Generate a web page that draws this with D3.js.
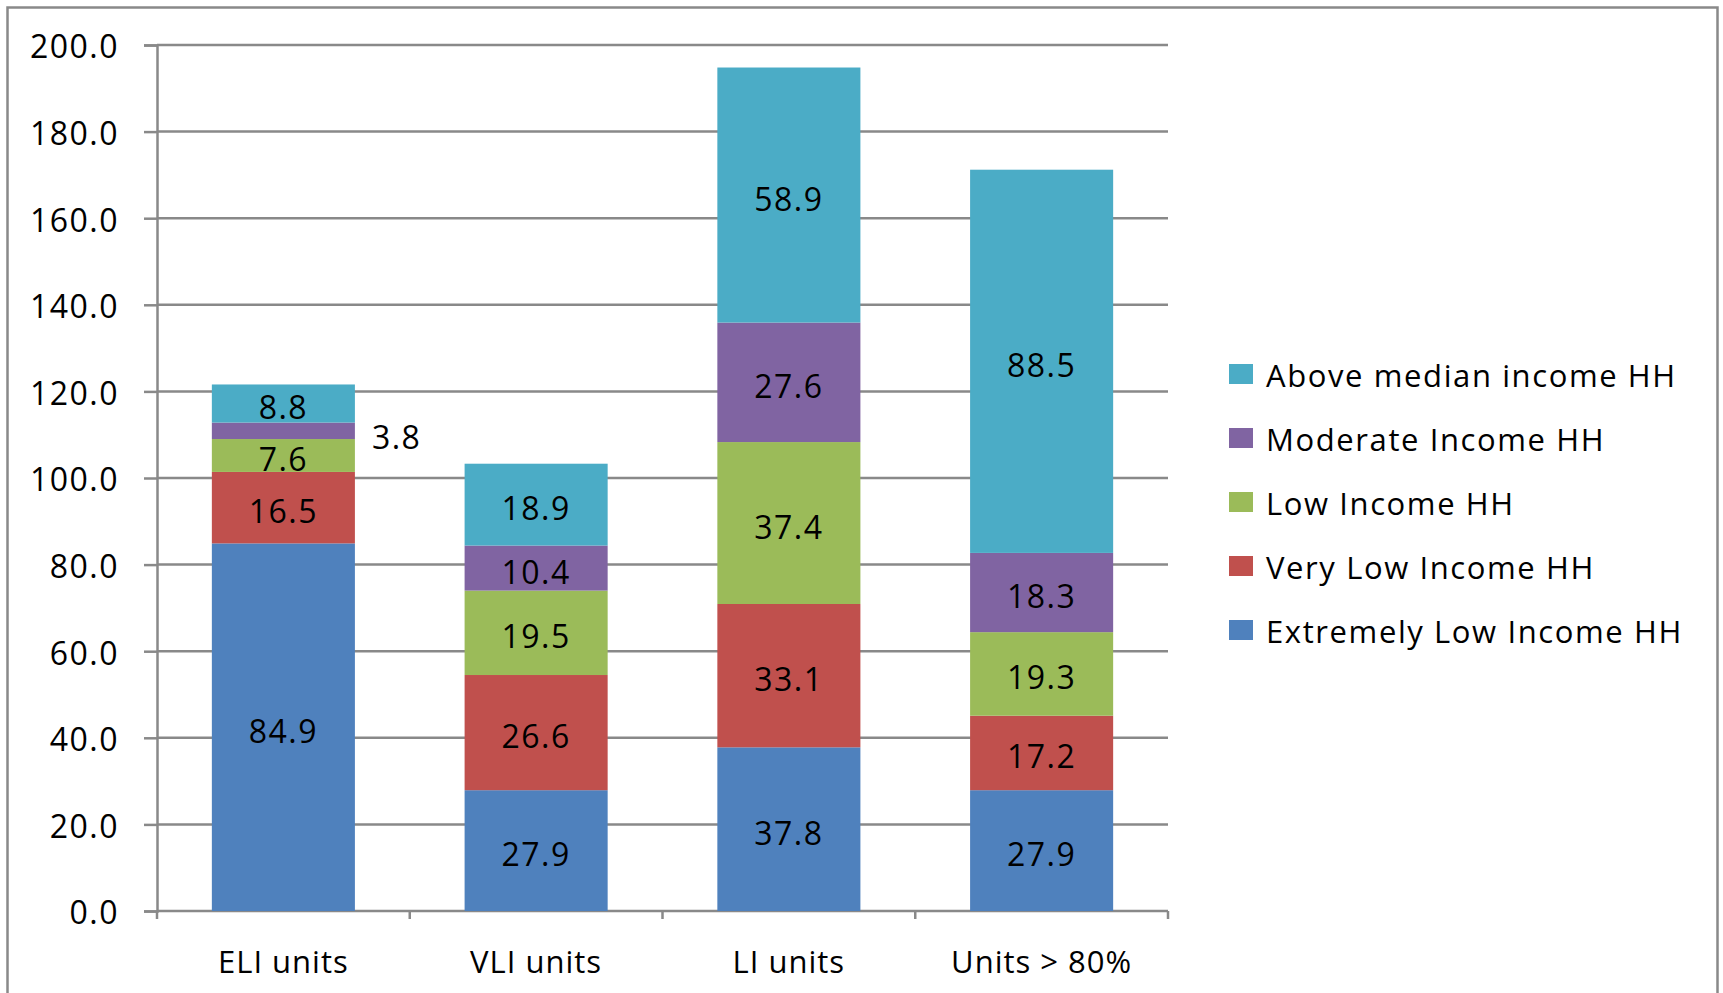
<!DOCTYPE html>
<html>
<head>
<meta charset="utf-8">
<script src="https://cdn.jsdelivr.net/npm/d3@7/dist/d3.min.js"></script>
<style>
  html, body { margin: 0; padding: 0; background: #fff; }
  svg { display: block; }
  text { font-family: "Open Sans", "DejaVu Sans", sans-serif; fill: #000; }
</style>
</head>
<body>
<svg id="chart" width="1723" height="993"></svg>
<script>
// Unit categories along the x axis
const categories = ["ELI units", "VLI units", "LI units", "Units > 80%"];

// Household income groups, bottom of the stack first
const seriesNames = [
  "Extremely Low Income HH",
  "Very Low Income HH",
  "Low Income HH",
  "Moderate Income HH",
  "Above median income HH"
];
const seriesColors = ["#4F81BD", "#C0504D", "#9BBB59", "#8064A2", "#4BACC6"];

// Values per series, one entry per category
const extremelyLow = [84.9, 27.9, 37.8, 27.9];
const veryLow      = [16.5, 26.6, 33.1, 17.2];
const low          = [7.6, 19.5, 37.4, 19.3];
const moderate     = [3.8, 10.4, 27.6, 18.3];
const aboveMedian  = [8.8, 18.9, 58.9, 88.5];

const yTicks = [0, 20, 40, 60, 80, 100, 120, 140, 160, 180, 200];

const seriesValues = [extremelyLow, veryLow, low, moderate, aboveMedian];

const rows = categories.map((c, i) => {
  const r = { category: c };
  seriesNames.forEach((s, k) => { r[s] = seriesValues[k][i]; });
  return r;
});

const stacked = d3.stack().keys(seriesNames)(rows);

const svg = d3.select("#chart");
const plot = { left: 157, right: 1168, top: 45, bottom: 911 };
const gridColor = "#898989";
const fontSize = 31;

// Outer frame (open at the bottom edge)
svg.append("path")
  .attr("d", "M7.5,1000 V7.5 H1717.5 V1000")
  .attr("fill", "none").attr("stroke", gridColor).attr("stroke-width", 2.5);

const x = d3.scaleBand().domain(categories).range([plot.left, plot.right]).padding(0);
const y = d3.scaleLinear().domain([0, 200]).range([plot.bottom, plot.top]);
const barW = x.bandwidth() * 0.566;

// Horizontal gridlines
svg.append("g").selectAll("line").data(yTicks.filter(t => t > 0)).join("line")
  .attr("x1", plot.left).attr("x2", plot.right)
  .attr("y1", d => y(d)).attr("y2", d => y(d))
  .attr("stroke", gridColor).attr("stroke-width", 2.5);

// Y axis
const yAxis = d3.axisLeft(y).tickValues(yTicks).tickFormat(d3.format(".1f")).tickSize(13).tickPadding(25);
const yg = svg.append("g").attr("transform", `translate(${plot.left},0)`).call(yAxis);
yg.select(".domain").attr("stroke", gridColor).attr("stroke-width", 2.5);
yg.selectAll(".tick line").attr("stroke", gridColor).attr("stroke-width", 2.5);
yg.selectAll(".tick text")
  .style("font-family", "'Open Sans', sans-serif")
  .attr("font-size", 32).attr("letter-spacing", 1.5)
  .attr("fill", "#000").attr("dy", "0.4em");

// X axis with ticks at the band boundaries
const xg = svg.append("g").attr("transform", `translate(0,${plot.bottom})`);
xg.append("line").attr("x1", plot.left).attr("x2", plot.right)
  .attr("stroke", gridColor).attr("stroke-width", 2.5);
const boundaries = categories.map(c => x(c)).concat([plot.right]);
xg.selectAll("line.tk").data(boundaries).join("line").attr("class", "tk")
  .attr("x1", d => d).attr("x2", d => d).attr("y1", 0).attr("y2", 8)
  .attr("stroke", gridColor).attr("stroke-width", 2.5);
xg.selectAll("text").data(categories).join("text")
  .attr("x", d => x(d) + x.bandwidth() / 2)
  .attr("y", 62)
  .attr("text-anchor", "middle")
  .attr("font-size", fontSize)
  .attr("letter-spacing", 1)
  .text(d => d);

// Stacked bars
const layers = svg.append("g").selectAll("g").data(stacked).join("g")
  .attr("fill", (d, i) => seriesColors[i]);
layers.selectAll("rect").data(d => d).join("rect")
  .attr("x", d => x(d.data.category) + (x.bandwidth() - barW) / 2)
  .attr("width", barW)
  .attr("y", d => y(d[1]))
  .attr("height", d => y(d[0]) - y(d[1]));

// Value labels centred in each segment; the thin moderate ELI segment is labelled beside the bar
const labels = svg.append("g");
stacked.forEach((layer, k) => {
  layer.forEach(d => {
    const v = d[1] - d[0];
    const cx = x(d.data.category) + x.bandwidth() / 2;
    const cy = y((d[0] + d[1]) / 2) + 4;
    const outside = (d.data.category === "ELI units" && seriesNames[k] === "Moderate Income HH");
    labels.append("text")
      .attr("x", outside ? cx + barW / 2 + 17 : cx)
      .attr("y", outside ? cy + 3 : cy)
      .attr("dy", "0.36em")
      .attr("text-anchor", outside ? "start" : "middle")
      .attr("font-size", 32)
      .attr("letter-spacing", 1.5)
      .text(d3.format(".1f")(v));
  });
});

// Legend, top entry is the top of the stack
const legendItems = seriesNames.map((s, i) => ({ name: s, color: seriesColors[i] })).reverse();
const lg = svg.append("g").selectAll("g").data(legendItems).join("g")
  .attr("transform", (d, i) => `translate(1229,${376 + i * 64})`);
lg.append("rect").attr("x", 0).attr("y", -12).attr("width", 24).attr("height", 20)
  .attr("fill", d => d.color);
lg.append("text").attr("x", 37).attr("y", 0).attr("dy", "0.36em")
  .attr("font-size", fontSize).attr("letter-spacing", 1.6)
  .text(d => d.name);
</script>
</body>
</html>
